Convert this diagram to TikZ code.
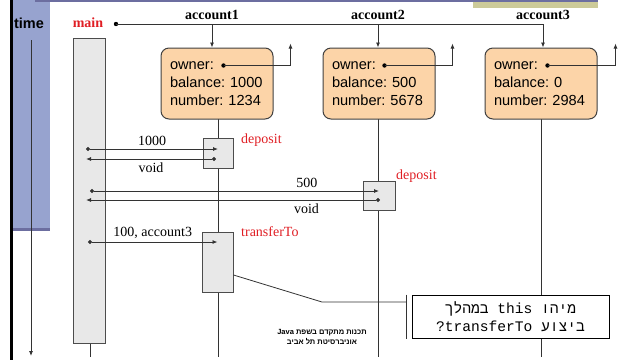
\documentclass[tikz,border=0pt]{standalone}
\usepackage{fontspec}
\setmainfont{Liberation Serif}
\setsansfont{Liberation Sans}
\newfontfamily\hebmono[Script=Hebrew]{Liberation Mono}
\newfontfamily\hebsans[Script=Hebrew]{Liberation Sans}
\TeXXeTstate=1
\usetikzlibrary{arrows.meta,calc,positioning}

\definecolor{panelblue}{RGB}{151,163,207}
\definecolor{paneldark}{RGB}{108,110,160}
\definecolor{barkhaki}{RGB}{204,202,153}
\definecolor{objpeach}{RGB}{252,212,168}
\definecolor{actgray}{RGB}{232,232,232}
\definecolor{callred}{RGB}{224,30,36}

\begin{document}
\begin{tikzpicture}[
  x=1pt,y=-1pt,
  wire/.style={draw=black!80,line width=0.8pt},
  tip/.style={-{Latex[length=5pt,width=4pt]}},
  msg/.style={wire,{Circle[length=4pt]}-{Latex[length=5pt,width=4pt]}},
  hdr/.style={font=\bfseries\fontsize{14}{16}\selectfont,inner sep=1pt},
  lbl/.style={font=\fontsize{14}{16}\selectfont,inner sep=2pt},
  call/.style={font=\fontsize{14}{16}\selectfont,text=callred,anchor=west,inner sep=0pt},
  obj/.style={draw=black!75,line width=1pt,fill=objpeach,rounded corners=8pt,
    minimum width=112,minimum height=71,text width=94,inner xsep=9pt,align=left,
    font=\sffamily\fontsize{14.6}{18}\selectfont\frenchspacing},
  act/.style={draw=black!70,line width=1pt,fill=actgray,inner sep=0pt},
  note/.style={draw=black,line width=1pt,fill=white,minimum width=197,minimum height=43,
    align=center,font=\hebmono\fontsize{14.6}{18}\selectfont}
]
  \useasboundingbox (0,0) rectangle (625,360);

  % Slide frame
  \fill[panelblue] (11,0) rectangle (50,230);
  \fill[paneldark] (11,228) rectangle (50,231);
  \fill[barkhaki] (473,0) rectangle (598,8);
  \fill[paneldark] (35,0) rectangle (598,2);
  \draw[line width=3pt] (11,0) -- (11,360);

  % Time axis
  \node[font=\sffamily\bfseries\fontsize{14.5}{16}\selectfont] (timelbl) at (29,23) {time};
  \coordinate (t0) at (31,40);
  \coordinate (t1) at (31,356);
  \draw[wire,tip] (t0) -- (t1);

  % References from main
  \node[hdr,text=callred] (mainlbl) at (88,23) {main};
  \node[hdr] (acc1lbl) at (212,15) {account1};
  \node[hdr] (acc2lbl) at (378,15) {account2};
  \node[hdr] (acc3lbl) at (543,15) {account3};
  \coordinate (mainref) at (116,24);
  \coordinate (ref1) at (212,24);
  \coordinate (ref2) at (378,24);
  \coordinate (ref3) at (543,24);
  \fill (mainref) circle (2.2);
  \draw[wire] (mainref) -- (ref3);

  % Lifelines
  \draw[wire] (218,119) -- (218,357);
  \draw[wire] (378,119) -- (378,357);
  \draw[wire] (541,119) -- (541,357);
  \draw[wire] (90,343) -- (90,357);

  % Objects
  \node[obj] (acc1) at (217,83.5) {owner:\\balance: 1000\\number: 1234};
  \node[obj] (acc2) at (379,83.5) {owner:\\balance: 500\\number: 5678};
  \node[obj] (acc3) at (541,83.5) {owner:\\balance: 0\\number: 2984};
  \draw[wire,tip] (ref1) -- (ref1 |- acc1.north);
  \draw[wire,tip] (ref2) -- (ref2 |- acc2.north);
  \draw[wire,tip] (ref3) -- (ref3 |- acc3.north);

  % owner fields
  \coordinate (own1) at ($(acc1.north west)+(63,18)$);
  \coordinate (own2) at ($(acc2.north west)+(62,18)$);
  \coordinate (own3) at ($(acc3.north west)+(63,18)$);
  \coordinate (up1) at ($(acc1.north east)+(17,-4)$);
  \coordinate (up2) at ($(acc2.north east)+(17,-4)$);
  \coordinate (up3) at ($(acc3.north east)+(18,-4)$);
  \foreach \i in {1,2,3}{
    \fill (own\i) circle (2.2);
    \draw[wire,tip] (own\i) -| (up\i);
  }

  % Activations
  \node[act,minimum width=32,minimum height=305] (mainlife) at (89,190.5) {};
  \node[act,minimum width=30,minimum height=30] (dep1) at (218,153) {};
  \node[act,minimum width=32,minimum height=29] (dep2) at (379,195.5) {};
  \node[act,minimum width=31,minimum height=60] (trans) at (217.5,262) {};
  \node[call] (dep1lbl) at (241,140) {deposit};
  \node[call] (dep2lbl) at (396,176) {deposit};
  \node[call] (translbl) at (241,232) {transferTo};

  % Calls and returns
  \coordinate (c1) at (86,149);
  \coordinate (r1) at (216,159);
  \coordinate (c2) at (90,191);
  \coordinate (r2) at (380,200);
  \coordinate (c3) at (88,242);
  \draw[msg] (c1) -- (c1 -| dep1.center) node[lbl,midway,above=1pt] {1000};
  \draw[msg] (r1) -- (r1 -| c1) node[lbl,midway,below=1pt] {void};
  \draw[msg] (c2) -- (c2 -| dep2.center) node[lbl,pos=0.75,above=1pt] {500};
  \draw[msg] (r2) -- (r2 -| c1) node[lbl,pos=0.25,below=1pt] {void};
  \draw[msg] (c3) -- (c3 -| trans.center) node[lbl,midway,above=1pt] {100, account3};

  % Question callout
  \node[note] (quest) at (510.5,316.5)
    {\beginR מיהו \beginL this\endL{} במהלך\endR\\\beginR ביצוע \beginL transferTo\endL?\endR};
  \coordinate (cl0) at ($(trans.east)+(0,13)$);
  \coordinate (cl1) at (322,302);
  \coordinate (cl2) at ($(quest.west)+(-5,-14.5)$);
  \coordinate (bartop) at ($(quest.north west)+(-5,0)$);
  \coordinate (barbot) at ($(quest.south west)+(-5,0)$);
  \draw[wire] (cl0) -- (cl1) -- (cl2);
  \draw[wire] (bartop) -- (barbot);

  % Course footer
  \node[font=\hebsans\bfseries\fontsize{7.5}{10.5}\selectfont,align=center] (course) at (322,337)
    {\beginR תכנות מתקדם בשפת \beginL Java\endL\endR\\\beginR אוניברסיטת תל אביב\endR};
\end{tikzpicture}
\end{document}
